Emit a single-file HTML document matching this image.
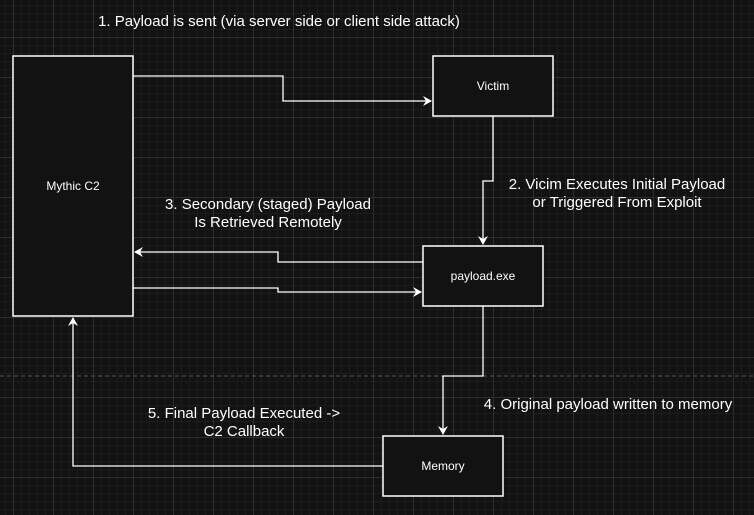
<!DOCTYPE html>
<html><head><style>
html,body{margin:0;padding:0;}
body{width:754px;height:515px;overflow:hidden;background-color:#121212;
background-image:
linear-gradient(to right,#2e2e2e 1px,transparent 1px),
linear-gradient(to bottom,#2e2e2e 1px,transparent 1px),
linear-gradient(to right,#1c1c1c 1px,transparent 1px),
linear-gradient(to bottom,#1c1c1c 1px,transparent 1px);
background-size:40px 40px,40px 40px,8px 8px,8px 8px;
background-position:13px 37px,13px 37px,13px 37px,13px 37px;
font-family:"Liberation Sans",sans-serif;}
svg{position:absolute;left:0;top:0;}
</style></head><body>
<svg width="754" height="515" xmlns="http://www.w3.org/2000/svg" font-family="Liberation Sans, sans-serif">
<defs><marker id="a" markerWidth="10" markerHeight="10" refX="8" refY="5" orient="auto" markerUnits="userSpaceOnUse">
<path d="M0,0 L9,5 L0,10 L3,5 Z" fill="#fff"/></marker></defs>
<line x1="0" y1="376" x2="754" y2="376" stroke="#555" stroke-dasharray="4 3"/>
<g fill="#121212" stroke="#fff" stroke-width="1.5">
<rect x="13" y="56" width="120" height="260"/>
<rect x="433" y="56" width="120" height="60"/>
<rect x="423" y="246" width="120" height="60"/>
<rect x="383" y="436" width="120" height="60"/>
</g>
<g fill="none" stroke="#fff" stroke-width="1.3">
<path d="M133,76 H283 V101 H431" marker-end="url(#a)"/>
<path d="M493,116 V181 H483 V244" marker-end="url(#a)"/>
<path d="M423,262 H278 V252 H135" marker-end="url(#a)"/>
<path d="M133,288 H278 V292 H421" marker-end="url(#a)"/>
<path d="M483,306 V376 H443 V434" marker-end="url(#a)"/>
<path d="M383,466 H73 V318" marker-end="url(#a)"/>
</g>
<g fill="#fff" font-size="12" text-anchor="middle">
<text x="73" y="190">Mythic C2</text>
<text x="493" y="90">Victim</text>
<text x="483" y="280">payload.exe</text>
<text x="443" y="470">Memory</text>
</g>
<g fill="#fff" font-size="15" text-anchor="middle">
<text x="279" y="26">1. Payload is sent (via server side or client side attack)</text>
<text x="617" y="189">2. Vicim Executes Initial Payload</text>
<text x="617" y="207">or Triggered From Exploit</text>
<text x="268" y="209">3. Secondary (staged) Payload</text>
<text x="268" y="227">Is Retrieved Remotely</text>
<text x="608" y="409">4. Original payload written to memory</text>
<text x="244" y="418">5. Final Payload Executed -&gt;</text>
<text x="244" y="436">C2 Callback</text>
</g>
</svg>
</body></html>
